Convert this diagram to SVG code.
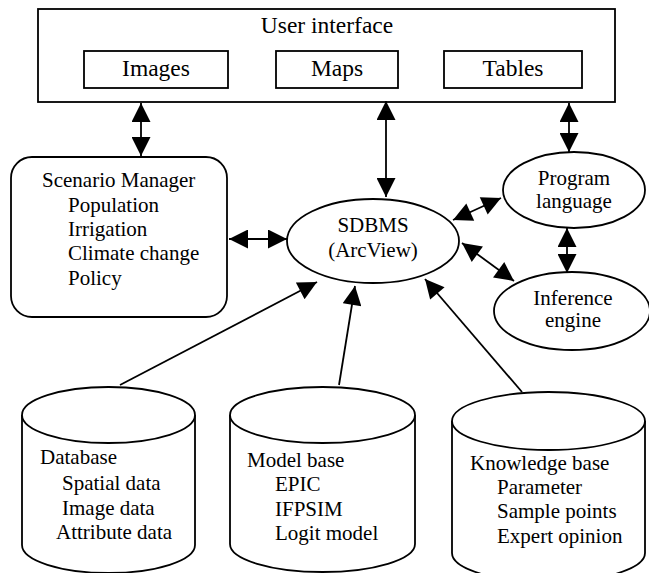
<svg xmlns="http://www.w3.org/2000/svg" width="649" height="573" viewBox="0 0 649 573">
<style>
.s{fill:none;stroke:#000;stroke-width:1.8}
.w{fill:#fff;stroke:#000;stroke-width:1.8}
text{font-family:"Liberation Serif","Times New Roman",serif;fill:#000;font-size:21px}
.big{font-size:23.5px}
.c{text-anchor:middle}
.l{stroke:#000;stroke-width:1.8;fill:none}
</style>
<defs>
<marker id="ah" viewBox="0 0 20 20" refX="20" refY="10" markerWidth="20" markerHeight="19" markerUnits="userSpaceOnUse" orient="auto-start-reverse">
<path d="M0,0 L20,10 L0,20 z" fill="#000"/>
</marker>
</defs>
<rect width="649" height="573" fill="#fff"/>
<g id="user-interface">
<rect class="w" x="38" y="9" width="577" height="93"/>
<text class="big c" x="327" y="33">User interface</text>
</g>
<g id="images">
<rect class="w" x="84" y="51" width="144" height="37"/>
<text class="big c" x="156" y="76">Images</text>
</g>
<g id="maps">
<rect class="w" x="276" y="51" width="122" height="37"/>
<text class="big c" x="337" y="76">Maps</text>
</g>
<g id="tables">
<rect class="w" x="444" y="51" width="138" height="37"/>
<text class="big c" x="513" y="76">Tables</text>
</g>
<g id="scenario-manager">
<rect class="w" x="11" y="157" width="216" height="160" rx="21" ry="21"/>
<text x="42" y="187">Scenario Manager</text>
<text x="68" y="212">Population</text>
<text x="68" y="236">Irrigation</text>
<text x="68" y="260">Climate change</text>
<text x="68" y="285">Policy</text>
</g>
<g id="sdbms">
<ellipse class="w" cx="373" cy="241" rx="86" ry="42"/>
<text class="c" x="373" y="232">SDBMS</text>
<text class="c" x="373" y="257">(ArcView)</text>
</g>
<g id="program-language">
<ellipse class="w" cx="574" cy="190" rx="71" ry="38"/>
<text class="c" x="574" y="185">Program</text>
<text class="c" x="574" y="208">language</text>
</g>
<g id="inference-engine">
<ellipse class="w" cx="572" cy="311" rx="78" ry="39"/>
<text class="c" x="573" y="305">Inference</text>
<text class="c" x="573" y="327">engine</text>
</g>
<g id="database">
<path class="w" d="M22,415 L22,545 A86.5,28 0 0 0 195,545 L195,415"/>
<ellipse class="w" cx="108.5" cy="415" rx="86.5" ry="28"/>
<text x="40" y="464">Database</text>
<text x="62" y="490">Spatial data</text>
<text x="62" y="515">Image data</text>
<text x="56" y="539">Attribute data</text>
</g>
<g id="model-base">
<path class="w" d="M230,415 L230,544 A92.5,28 0 0 0 415,544 L415,415"/>
<ellipse class="w" cx="322.5" cy="415" rx="92.5" ry="28"/>
<text x="247" y="467">Model base</text>
<text x="275" y="491">EPIC</text>
<text x="275" y="516">IFPSIM</text>
<text x="275" y="540">Logit model</text>
</g>
<g id="knowledge-base">
<path class="w" d="M452,421 L452,553 A96.5,29 0 0 0 645,553 L645,421"/>
<ellipse class="w" cx="548.5" cy="421" rx="96.5" ry="29"/>
<text x="470" y="470">Knowledge base</text>
<text x="497" y="494">Parameter</text>
<text x="497" y="518">Sample points</text>
<text x="497" y="543">Expert opinion</text>
</g>
<g id="connectors">
<line class="l" x1="141" y1="103" x2="141" y2="156" marker-start="url(#ah)" marker-end="url(#ah)"/>
<line class="l" x1="386" y1="101" x2="386" y2="197" marker-start="url(#ah)" marker-end="url(#ah)"/>
<line class="l" x1="569" y1="103" x2="569" y2="152" marker-start="url(#ah)" marker-end="url(#ah)"/>
<line class="l" x1="229" y1="239" x2="287" y2="239" marker-start="url(#ah)" marker-end="url(#ah)"/>
<line class="l" x1="453" y1="220" x2="501" y2="198" marker-start="url(#ah)" marker-end="url(#ah)"/>
<line class="l" x1="462" y1="243" x2="514" y2="281" marker-start="url(#ah)" marker-end="url(#ah)"/>
<line class="l" x1="567" y1="228" x2="567" y2="273" marker-start="url(#ah)" marker-end="url(#ah)"/>
<line class="l" x1="120" y1="385" x2="317" y2="282" marker-end="url(#ah)"/>
<line class="l" x1="339" y1="385" x2="355" y2="286" marker-end="url(#ah)"/>
<line class="l" x1="522" y1="392" x2="425" y2="279" marker-end="url(#ah)"/>
</g>
</svg>
